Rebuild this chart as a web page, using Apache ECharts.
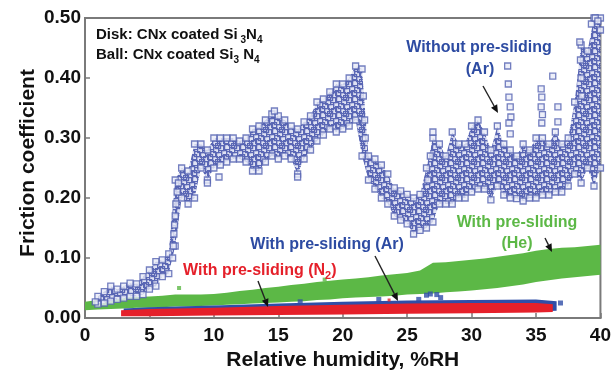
<!DOCTYPE html>
<html><head><meta charset="utf-8">
<script src="https://cdn.jsdelivr.net/npm/echarts@6/dist/echarts.min.js"></script>
<style>html,body{margin:0;padding:0;background:#fff}#c{width:614px;height:376px}</style>
</head><body><div id="c"></div>
<script>
// ---------- DATA ----------
const xTicks = [0, 5, 10, 15, 20, 25, 30, 35, 40];
const yTicks = [0.00, 0.10, 0.20, 0.30, 0.40, 0.50];

// Without pre-sliding (Ar): band of open squares, lower / upper edges
const noPreRH = [1.0,1.5,2.0,2.5,3.0,3.5,4.0,4.5,5.0,5.5,
  6.0,6.5,7.0,7.5,8.0,8.5,9.0,9.5,10.0,10.5,
  11.0,11.5,12.0,12.5,13.0,13.5,14.0,14.5,15.0,15.5,
  16.0,16.5,17.0,17.5,18.0,18.5,19.0,19.5,20.0,20.5,
  21.0,21.5,22.0,22.5,23.0,23.5,24.0,24.5,25.0,25.5,
  26.0,26.5,27.0,27.5,28.0,28.5,29.0,29.5,30.0,30.5,
  31.0,31.5,32.0,32.5,33.0,33.5,34.0,34.5,35.0,35.5,
  36.0,36.5,37.0,37.5,38.0,38.5,39.0,39.5,40.0];
const noPreLow = [.023,.025,.028,.031,.033,.036,.036,.039,.048,.053,
  .069,.074,.12,.20,.19,.20,.25,.23,.25,.255,
  .26,.265,.265,.26,.245,.245,.26,.27,.265,.27,
  .265,.24,.265,.28,.295,.305,.315,.31,.315,.32,
  .33,.27,.23,.215,.20,.19,.17,.163,.157,.14,
  .146,.15,.16,.19,.19,.19,.20,.20,.21,.215,
  .215,.197,.22,.205,.20,.199,.195,.20,.20,.205,
  .205,.21,.21,.22,.24,.225,.25,.22,.25];
const noPreHigh = [.036,.044,.053,.048,.053,.058,.057,.069,.080,.094,
  .097,.107,.23,.25,.245,.29,.29,.28,.30,.30,
  .30,.30,.295,.30,.315,.32,.33,.34,.337,.33,
  .32,.315,.327,.337,.36,.365,.377,.39,.39,.40,
  .42,.415,.27,.265,.255,.24,.217,.212,.206,.20,
  .206,.25,.30,.29,.27,.31,.29,.29,.32,.33,
  .31,.28,.32,.29,.28,.27,.29,.28,.30,.30,
  .29,.31,.29,.30,.36,.455,.445,.50,.50];
const noPreExtra = [[0.8,0.027],[6.8,0.10],[6.85,0.12],[6.9,0.14],[6.95,0.155],[7.0,0.17],[7.05,0.19],[7.15,0.21],[7.25,0.225],
  [9.5,0.225],[10.4,0.235],[16.5,0.235],[14.7,0.345],[21.6,0.37],[21.7,0.33],[21.75,0.30],
  [26.6,0.23],[26.8,0.27],[27.0,0.31],
  [32.8,0.42],[32.85,0.39],[32.9,0.368],[33.0,0.352],[33.05,0.335],[32.9,0.325],[33.0,0.307],
  [35.4,0.382],[35.45,0.368],[35.4,0.352],[35.5,0.339],[35.45,0.325],
  [36.3,0.403],[36.7,0.352],[36.7,0.327],[38.4,0.46],[38.45,0.43],[38.5,0.40],[38.55,0.37],
  [39.3,0.49],[39.6,0.50],[39.8,0.495],[40.0,0.48]];

// With pre-sliding (He): green band
const heRH = [0,1,2,3,4,5,6,7,8,9,10,11,12,13,14,15,16,17,18,19,20,
  21,22,23,24,25,26,27,28,29,30,31,32,33,34,35,36,37,38,39,40];
const heLow = [.013,.014,.015,.016,.017,.017,.018,.019,.019,.020,.021,
  .022,.023,.024,.025,.026,.027,.028,.030,.031,.033,
  .034,.035,.036,.037,.039,.040,.041,.043,.044,.046,
  .048,.050,.053,.056,.060,.063,.066,.068,.070,.072];
const heHigh = [.027,.030,.033,.034,.035,.036,.037,.039,.039,.039,.040,
  .042,.045,.047,.050,.052,.055,.057,.060,.062,.064,
  .066,.068,.071,.073,.075,.079,.092,.093,.095,.097,
  .099,.102,.105,.108,.112,.115,.117,.118,.120,.122];
const heExtra = [[2.3,0.045],[7.3,0.050],[18.6,0.064]];

// With pre-sliding (Ar): thin blue band
const arPreRH = [3.0,5,10,15,20,25,30,35,36.6];
const arPreLow = [.005,.005,.006,.007,.008,.009,.010,.011,.012];
const arPreHigh = [.016,.018,.021,.024,.027,.029,.030,.031,.028];
const arPreExtra = [[16.7,0.027],[22.8,0.031],[25.9,0.031],[26.5,0.038],[26.8,0.040],[27.3,0.039],[27.6,0.034],[36.9,0.025]];

// With pre-sliding (N2): red band
const n2RH = [2.8,5,10,15,20,25,30,35,36.3];
const n2Low = [.003,.003,.004,.005,.006,.007,.008,.009,.010];
const n2High = [.013,.015,.017,.020,.022,.024,.025,.025,.023];
const n2Extra = [[23.6,0.030]];

// ---------- CHART ----------
const FONT = '"Liberation Sans", Arial, Helvetica, sans-serif';
const BLUE_T = '#2d4ba2', GREEN = '#5cb846', RED = '#e5202a', ARBLUE = '#2f4ea8';

// texture of overlapping open squares for the band
const T = 16;
const pc = document.createElement('canvas'); pc.width = T; pc.height = T;
const g = pc.getContext('2d');
g.fillStyle = '#dfe2f3'; g.fillRect(0, 0, T, T);
g.strokeStyle = '#5a67b5'; g.lineWidth = 1.2;
const offs = [[0,0],[5,3],[10,1],[2,7],[8,8],[13,6],[4,12],[11,12],[15,10],[7,15]];
offs.forEach(([ox, oy]) => {
  for (let dx = -T; dx <= T; dx += T) for (let dy = -T; dy <= T; dy += T) g.strokeRect(ox + dx + 0.6, oy + dy + 0.6, 5, 5);
});

function band(name, xs, lo, hi, fill, z) {
  return {type: 'custom', name: name, data: [[xs[0], lo[0]]], z: z, silent: true, clip: true,
    renderItem: function (params, api) {
      const top = xs.map((x, i) => api.coord([x, hi[i]]));
      const bot = xs.map((x, i) => api.coord([x, lo[i]])).reverse();
      return {type: 'polygon', shape: {points: top.concat(bot)}, style: {fill: fill, stroke: null}};
    }};
}
const sq = {color: '#e9ebf7', borderColor: '#5360b0', borderWidth: 1.3};

const series = [
  band('he', heRH, heLow, heHigh, GREEN, 2),
  {type: 'scatter', data: heExtra, symbol: 'rect', symbolSize: 4, itemStyle: {color: GREEN}, z: 2},
  band('arpre', arPreRH, arPreLow, arPreHigh, ARBLUE, 3),
  {type: 'scatter', data: arPreExtra, symbol: 'rect', symbolSize: 5, itemStyle: {color: ARBLUE}, z: 3},
  band('n2', n2RH, n2Low, n2High, RED, 4),
  {type: 'scatter', data: n2Extra, symbol: 'rect', symbolSize: 3, itemStyle: {color: RED}, z: 4},
  band('nopre', noPreRH, noPreLow, noPreHigh, {image: pc, repeat: 'repeat'}, 5),
  {type: 'scatter', data: noPreRH.map((x, i) => [x, noPreLow[i]]), symbol: 'rect', symbolSize: 6, itemStyle: sq, z: 6},
  {type: 'scatter', data: noPreRH.map((x, i) => [x, noPreHigh[i]]), symbol: 'rect', symbolSize: 6, itemStyle: sq, z: 6},
  {type: 'scatter', data: noPreExtra, symbol: 'rect', symbolSize: 6, itemStyle: sq, z: 6}
];

function arrow(x1, y1, x2, y2) {
  const a = Math.atan2(y2 - y1, x2 - x1), L = 8, W = 3.5;
  const bx = x2 - L * Math.cos(a), by = y2 - L * Math.sin(a);
  return [
    {type: 'line', shape: {x1: x1, y1: y1, x2: bx, y2: by}, style: {stroke: '#222', lineWidth: 1.4}, z: 20},
    {type: 'polygon', shape: {points: [[x2, y2], [bx + W * Math.sin(a), by - W * Math.cos(a)], [bx - W * Math.sin(a), by + W * Math.cos(a)]]},
     style: {fill: '#111'}, z: 20}
  ];
}
function txt(x, y, text, color, size, align, rich) {
  const st = {text: text, fill: color, font: 'bold ' + size + 'px ' + FONT,
    align: align || 'center', verticalAlign: 'middle', textAlign: align || 'center', textVerticalAlign: 'middle'};
  if (rich) st.rich = rich;
  return {type: 'text', x: x, y: y, style: st, z: 30};
}
const subRich = (c, s1, s2) => ({
  a: {fontSize: s1, fontWeight: 'bold', fontFamily: FONT, color: c, lineHeight: 20, verticalAlign: 'middle'},
  s: {fontSize: s2, fontWeight: 'bold', fontFamily: FONT, color: c, lineHeight: 9, verticalAlign: 'bottom'}
});

const graphic = [].concat(
  [txt(96, 35, '{a|Disk: CNx coated Si}{s| 3}{a|N}{s|4}', '#111', 15, 'left', subRich('#111', 15, 10)),
   txt(96, 55, '{a|Ball: CNx coated Si}{s|3}{a| N}{s|4}', '#111', 15, 'left', subRich('#111', 15, 10)),
   txt(479, 48, 'Without pre-sliding', BLUE_T, 16),
   txt(480, 70, '(Ar)', BLUE_T, 16),
   txt(517, 223, 'With pre-sliding', GREEN, 16),
   txt(517, 244, '(He)', GREEN, 16),
   txt(327, 245, 'With pre-sliding (Ar)', BLUE_T, 16),
   txt(183, 271, '{a|With pre-sliding (N}{s|2}{a|)}', RED, 16, 'left', subRich(RED, 16, 11)),
   {type: 'text', x: 28, y: 163, rotation: Math.PI / 2,
    style: {text: 'Friction coefficient', fill: '#111', font: 'bold 21px ' + FONT,
      align: 'center', verticalAlign: 'middle', textAlign: 'center', textVerticalAlign: 'middle'}, z: 30}],
  arrow(483, 86, 498, 113),
  arrow(545, 238, 552, 252),
  arrow(375, 256, 398, 301),
  arrow(258, 281, 268, 307)
);

const chart = echarts.init(document.getElementById('c'), null, {renderer: 'canvas'});
chart.setOption({
  animation: false,
  grid: {left: 85, right: 7, top: 18, bottom: 54, show: true, borderColor: '#7a7a7a', borderWidth: 2, backgroundColor: 'transparent'},
  xAxis: {type: 'value', min: xTicks[0], max: xTicks[xTicks.length - 1], interval: xTicks[1] - xTicks[0],
    name: 'Relative humidity, %RH', nameLocation: 'middle', nameGap: 32,
    nameTextStyle: {fontSize: 21, fontWeight: 'bold', color: '#111', fontFamily: FONT},
    axisLine: {show: true, lineStyle: {color: '#7a7a7a', width: 2}},
    axisTick: {show: true, inside: true, length: 5, lineStyle: {color: '#7a7a7a', width: 1.5}},
    axisLabel: {fontSize: 19, fontWeight: 'bold', color: '#111', fontFamily: FONT, margin: 8},
    splitLine: {show: false}},
  yAxis: {type: 'value', min: yTicks[0], max: yTicks[yTicks.length - 1], interval: 0.1,
    axisLine: {show: true, lineStyle: {color: '#7a7a7a', width: 2}},
    axisTick: {show: true, inside: true, length: 5, lineStyle: {color: '#7a7a7a', width: 1.5}},
    axisLabel: {fontSize: 19, fontWeight: 'bold', color: '#111', fontFamily: FONT, margin: 4,
      formatter: v => v.toFixed(2)},
    splitLine: {show: false}},
  series: series,
  graphic: graphic
});
</script></body></html>
